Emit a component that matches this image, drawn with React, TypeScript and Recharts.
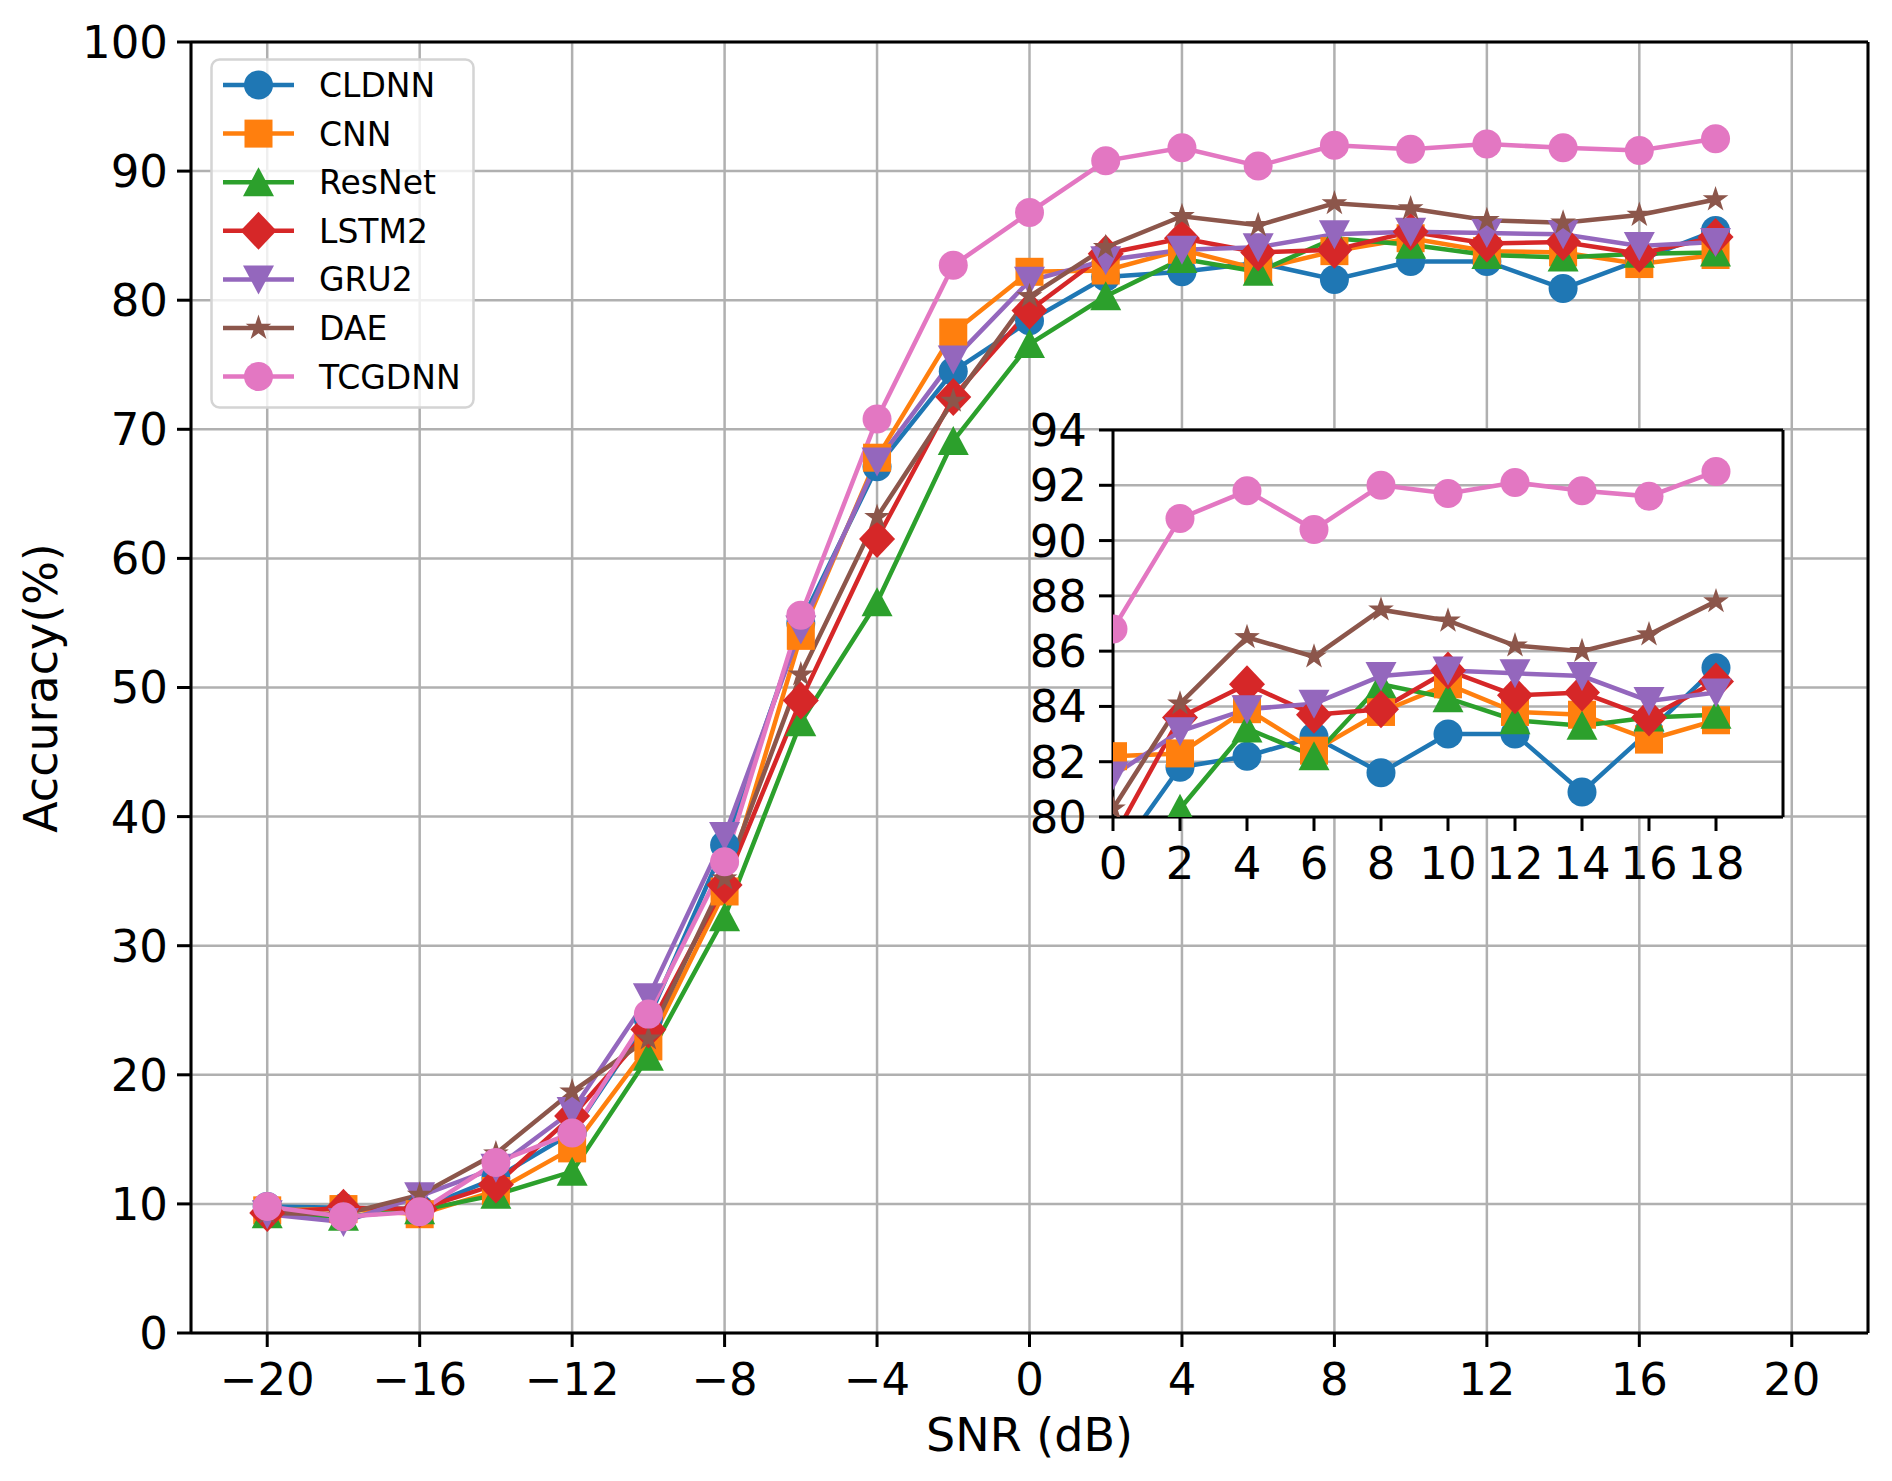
import React from "react";
import { LineChart, Line, XAxis, YAxis, CartesianGrid, ReferenceLine } from "recharts";

// SNR points (dB)
const snr = [-20, -18, -16, -14, -12, -10, -8, -6, -4, -2, 0, 2, 4, 6, 8, 10, 12, 14, 16, 18];

// accuracy (%) per model
const cldnn = [9.8, 9.7, 9.6, 12.0, 15.5, 24.3, 37.8, 55.0, 67.1, 74.5, 78.4, 81.8, 82.2, 82.9, 81.6, 83.0, 83.0, 80.9, 83.1, 85.4];
const cnn = [9.5, 9.6, 9.2, 11.0, 14.3, 22.2, 34.2, 54.0, 67.8, 77.5, 82.2, 82.3, 83.9, 82.4, 83.8, 84.8, 83.8, 83.7, 82.8, 83.5];
const resnet = [9.2, 9.0, 9.5, 10.7, 12.5, 21.4, 32.2, 47.3, 56.6, 69.1, 76.6, 80.3, 83.2, 82.2, 84.8, 84.3, 83.5, 83.3, 83.6, 83.7];
const lstm2 = [9.3, 9.7, 9.6, 11.5, 16.8, 23.5, 34.7, 49.0, 61.5, 72.5, 79.2, 83.6, 84.8, 83.7, 83.9, 85.3, 84.4, 84.5, 83.6, 84.9];
const gru2 = [9.2, 8.6, 10.6, 12.8, 17.2, 26.0, 38.5, 54.5, 67.5, 75.4, 81.5, 83.1, 83.9, 84.1, 85.1, 85.3, 85.2, 85.1, 84.2, 84.5];
const dae = [9.3, 9.2, 10.7, 13.9, 18.7, 22.8, 35.2, 51.0, 63.2, 72.2, 80.3, 84.1, 86.5, 85.8, 87.5, 87.1, 86.2, 86.0, 86.6, 87.8];
const tcgdnn = [9.8, 9.0, 9.4, 13.2, 15.5, 24.7, 36.5, 55.6, 70.8, 82.7, 86.8, 90.8, 91.8, 90.4, 92.0, 91.7, 92.1, 91.8, 91.6, 92.5];

const seriesNames = ["CLDNN", "CNN", "ResNet", "LSTM2", "GRU2", "DAE", "TCGDNN"];
const seriesValues = [cldnn, cnn, resnet, lstm2, gru2, dae, tcgdnn];
const seriesColors = ["#1f77b4", "#ff7f0e", "#2ca02c", "#d62728", "#9467bd", "#8c564b", "#e377c2"];
const seriesShapes = ["circle", "square", "triangleUp", "diamond", "triangleDown", "star", "circle"];

const mainXTicks = [-20, -16, -12, -8, -4, 0, 4, 8, 12, 16, 20];
const mainYTicks = [0, 10, 20, 30, 40, 50, 60, 70, 80, 90, 100];
const insetXTicks = [0, 2, 4, 6, 8, 10, 12, 14, 16, 18];
const insetYTicks = [80, 82, 84, 86, 88, 90, 92, 94];

const rows = snr.map((s, i) => {
  const row: Record<string, number> = { snr: s };
  seriesNames.forEach((name, k) => {
    row[name] = seriesValues[k][i];
  });
  return row;
});
const insetRows = rows.filter((r) => r.snr >= 0);

const FONT = "DejaVu Sans";
const minus = (v: number) => (v < 0 ? `\u2212${Math.abs(v)}` : `${v}`);

// inset chart box and its plot area (markers get clipped to it, like matplotlib)
const INSET_W = 800;
const INSET_H = 520;
const INSET_MARGIN = { top: 30, right: 30, bottom: 43, left: 10 };
const INSET_YAXIS_W = 90;
const INSET_XAXIS_H = 60;
const insetClip = {
  x: INSET_MARGIN.left + INSET_YAXIS_W,
  y: INSET_MARGIN.top,
  width: INSET_W - INSET_MARGIN.left - INSET_YAXIS_W - INSET_MARGIN.right,
  height: INSET_H - INSET_MARGIN.top - INSET_MARGIN.bottom - INSET_XAXIS_H,
};

function Marker({ shape, cx, cy, color }: { shape: string; cx: number; cy: number; color: string }) {
  if (shape === "circle") return <circle cx={cx} cy={cy} r={14.5} fill={color} />;
  if (shape === "square")
    return <rect x={cx - 14} y={cy - 14} width={28} height={28} fill={color} />;
  if (shape === "triangleUp")
    return (
      <polygon
        points={`${cx},${cy - 15} ${cx - 15.5},${cy + 14} ${cx + 15.5},${cy + 14}`}
        fill={color}
      />
    );
  if (shape === "triangleDown")
    return (
      <polygon
        points={`${cx},${cy + 15} ${cx - 15.5},${cy - 14} ${cx + 15.5},${cy - 14}`}
        fill={color}
      />
    );
  if (shape === "diamond")
    return (
      <polygon
        points={`${cx},${cy - 19} ${cx + 18},${cy} ${cx},${cy + 19} ${cx - 18},${cy}`}
        fill={color}
      />
    );
  // star
  const pts: string[] = [];
  for (let i = 0; i < 10; i++) {
    const a = (-90 + i * 36) * (Math.PI / 180);
    const r = i % 2 === 0 ? 13.5 : 5.2;
    pts.push(`${cx + r * Math.cos(a)},${cy + r * Math.sin(a)}`);
  }
  return <polygon points={pts.join(" ")} fill={color} />;
}

const dotRenderer =
  (name: string, shape: string, color: string, clipId?: string) => (props: any) => {
    const { cx, cy, index } = props;
    const key = `${name}-${index}`;
    if (cx == null || cy == null) return <g key={key} />;
    return (
      <g key={key} clipPath={clipId ? `url(#${clipId})` : undefined}>
        {clipId && (
          <clipPath id={clipId}>
            <rect {...insetClip} />
          </clipPath>
        )}
        <Marker shape={shape} cx={cx} cy={cy} color={color} />
      </g>
    );
  };

const axisLine = { stroke: "#000", strokeWidth: 3 };
const tickLine = { stroke: "#000", strokeWidth: 3 };
const tickText = { fill: "#000", fontSize: 45, fontFamily: FONT };

function renderSeries(inset: boolean) {
  return seriesNames.map((name, k) => (
    <Line
      key={name}
      type="linear"
      dataKey={name}
      stroke={seriesColors[k]}
      strokeWidth={4.5}
      dot={dotRenderer(name, seriesShapes[k], seriesColors[k], inset ? `inset-clip-${k}` : undefined)}
      activeDot={false}
      isAnimationActive={false}
    />
  ));
}

function Legend() {
  return (
    <svg
      width={266}
      height={352}
      style={{ position: "absolute", left: 210, top: 58 }}
    >
      <rect
        x={1.5}
        y={1.5}
        width={262}
        height={348}
        rx={8}
        fill="#ffffff"
        fillOpacity={0.8}
        stroke="#d4d4d4"
        strokeWidth={2.5}
      />
      {seriesNames.map((name, k) => {
        const y = 27 + k * 48.6;
        return (
          <g key={name}>
            <line x1={13} x2={84} y1={y} y2={y} stroke={seriesColors[k]} strokeWidth={4.5} />
            <Marker shape={seriesShapes[k]} cx={48.5} cy={y} color={seriesColors[k]} />
            <text x={109} y={y + 12} fontSize={33} fontFamily={FONT} fill="#000">
              {name}
            </text>
          </g>
        );
      })}
    </svg>
  );
}

export default function App() {
  return (
    <div
      style={{
        position: "absolute",
        left: 0,
        top: 0,
        width: 1892,
        height: 1481,
        background: "#ffffff",
      }}
    >
      <div style={{ position: "absolute", left: 0, top: 0 }}>
        <LineChart
          width={1892}
          height={1481}
          data={rows}
          margin={{ top: 42, right: 24, bottom: 88, left: 91 }}
        >
          <CartesianGrid stroke="#b0b0b0" strokeWidth={2.5} />
          <XAxis
            dataKey="snr"
            type="number"
            domain={[-22, 22]}
            ticks={mainXTicks}
            interval={0}
            tickFormatter={minus}
            height={60}
            axisLine={axisLine}
            tickLine={tickLine}
            tickSize={14}
            tickMargin={16}
            tick={tickText}
            label={{
              value: "SNR (dB)",
              position: "bottom",
              offset: 25,
              fontSize: 46,
              fontFamily: FONT,
              fill: "#000",
            }}
          />
          <YAxis
            type="number"
            domain={[0, 100]}
            ticks={mainYTicks}
            interval={0}
            width={100}
            axisLine={axisLine}
            tickLine={tickLine}
            tickSize={14}
            tickMargin={9}
            tick={tickText}
            label={{
              content: () => (
                <text
                  x={57}
                  y={688}
                  transform="rotate(-90 57 688)"
                  textAnchor="middle"
                  fontSize={46}
                  fontFamily={FONT}
                  fill="#000"
                >
                  Accuracy(%)
                </text>
              ),
            }}
          />
          {renderSeries(false)}
          <ReferenceLine y={100} stroke="#000" strokeWidth={3} />
          <ReferenceLine x={22} stroke="#000" strokeWidth={3} />
        </LineChart>
      </div>

      <Legend />

      <div style={{ position: "absolute", left: 1013, top: 400 }}>
        <LineChart width={INSET_W} height={INSET_H} data={insetRows} margin={INSET_MARGIN}>
          <CartesianGrid
            vertical={false}
            fill="#ffffff"
            fillOpacity={1}
            stroke="#b0b0b0"
            strokeWidth={2.5}
          />
          <XAxis
            dataKey="snr"
            type="number"
            domain={[0, 20]}
            allowDataOverflow
            ticks={insetXTicks}
            interval={0}
            height={INSET_XAXIS_H}
            axisLine={axisLine}
            tickLine={tickLine}
            tickSize={14}
            tickMargin={16}
            tick={tickText}
          />
          <YAxis
            type="number"
            domain={[80, 94]}
            allowDataOverflow
            ticks={insetYTicks}
            interval={0}
            width={INSET_YAXIS_W}
            axisLine={axisLine}
            tickLine={tickLine}
            tickSize={14}
            tickMargin={12}
            tick={tickText}
          />
          {renderSeries(true)}
          <ReferenceLine y={94} stroke="#000" strokeWidth={3} />
          <ReferenceLine x={20} stroke="#000" strokeWidth={3} />
        </LineChart>
      </div>
    </div>
  );
}
